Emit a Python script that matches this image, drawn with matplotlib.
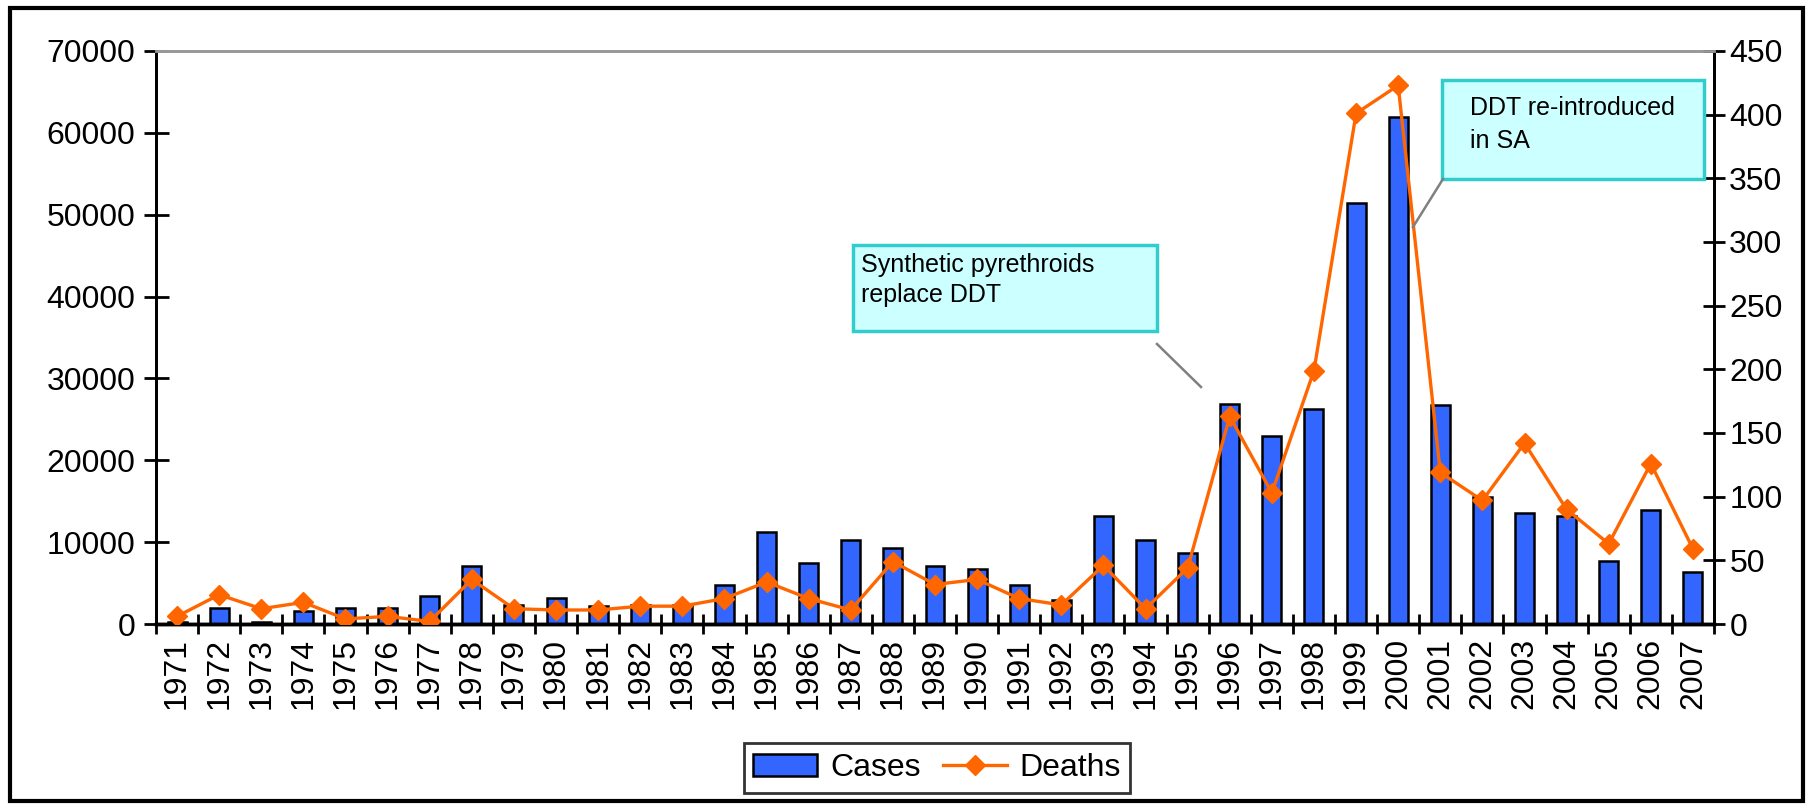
import matplotlib
matplotlib.use("Agg")
import matplotlib.pyplot as plt
from matplotlib.patches import Rectangle, Patch
from matplotlib.lines import Line2D

plt.rcParams['font.family'] = ['Liberation Sans', 'DejaVu Sans']

years = [str(y) for y in range(1971, 2008)]
cases = [300, 1900, 300, 1550, 1900, 1900, 3450, 7100, 2300, 3200,
         2250, 2300, 2300, 4800, 11300, 7400, 10300, 9300, 7100, 6750,
         4800, 2900, 13200, 10300, 8700, 26900, 23000, 26300, 51400, 61900,
         26700, 15500, 13600, 13200, 7700, 13950, 6400]
deaths = [6, 23, 12, 17, 4, 6, 2, 35, 12, 11,
          11, 14, 14, 20, 33, 20, 11, 49, 31, 35,
          20, 15, 46, 12, 44, 163, 103, 199, 401, 423,
          119, 97, 142, 90, 63, 126, 59]
cases_ticks = list(range(0, 70001, 10000))
deaths_ticks = list(range(0, 451, 50))
notes = [["Synthetic pyrethroids", "replace DDT"], ["DDT re-introduced", "in SA"]]

W, H = 1812, 805
fig = plt.figure(figsize=(W / 100, H / 100), dpi=100)

def fx(x):
    return x / W

def fy(y):
    return 1 - y / H

L, R, T, B = 156, 1714, 51, 624
ax = fig.add_axes([fx(L), fy(B), fx(R) - fx(L), fy(T) - fy(B)])
ax2 = ax.twinx()

BLUE = '#3366FF'
ORANGE = '#FF6600'
FS = 23

xs = list(range(len(years)))
ax.bar(xs, cases, width=0.45, color=BLUE, edgecolor='black', linewidth=1.8, zorder=2)
ax2.plot(xs, deaths, color=ORANGE, lw=2.4, marker='D', markersize=10,
         markeredgecolor=ORANGE, zorder=3)

ax.set_xlim(-0.5, len(years) - 0.5)
ax.set_ylim(0, 70000)
ax2.set_ylim(0, 450)
ax.set_yticks(cases_ticks)
ax.set_yticklabels([str(v) for v in cases_ticks], fontsize=FS)
ax2.set_yticks(deaths_ticks)
ax2.set_yticklabels([str(v) for v in deaths_ticks], fontsize=FS)

ax.set_xticks(xs)
ax.set_xticklabels(years, rotation=90, fontsize=FS)
ax.tick_params(axis='x', which='major', length=0, pad=10)
ax.set_xticks([i - 0.5 for i in range(len(years) + 1)], minor=True)
ax.tick_params(axis='x', which='minor', direction='inout', length=14, width=2)
ax.tick_params(axis='y', direction='inout', length=18, width=2, pad=6)
ax2.tick_params(axis='y', direction='inout', length=16, width=2, pad=3)

for a in (ax, ax2):
    a.spines['top'].set_color('#999999')
    a.spines['top'].set_linewidth(2)
    a.spines['left'].set_linewidth(2)
    a.spines['right'].set_linewidth(2)
    a.spines['bottom'].set_linewidth(2.5)
ax.set_zorder(1)
ax2.set_zorder(2)
ax2.patch.set_visible(False)

boxes = [(853, 245, 1157, 331), (1442, 80, 1704, 179)]
text_pos = [(861, [272, 302]), (1470, [115, 148])]
links = [((1157, 344), (1201, 387)), ((1443, 179), (1413, 227))]
for (x0, y0, x1, y1), lines, (tx, bases) in zip(boxes, notes, text_pos):
    fig.patches.append(Rectangle((fx(x0), fy(y1)), fx(x1) - fx(x0), fy(y0) - fy(y1),
                                 transform=fig.transFigure, facecolor='#CCFFFF',
                                 edgecolor='#33CCCC', linewidth=2.5, zorder=5))
    for line, by in zip(lines, bases):
        fig.text(fx(tx), fy(by), line, fontsize=18, va='baseline', ha='left', zorder=6)
for (p0, p1) in links:
    fig.add_artist(Line2D([fx(p0[0]), fx(p1[0])], [fy(p0[1]), fy(p1[1])],
                          transform=fig.transFigure, color='#808080', lw=1.8, zorder=6))

handles = [Patch(facecolor=BLUE, edgecolor='black', linewidth=1.8),
           Line2D([], [], color=ORANGE, lw=2.4, marker='D', markersize=10)]
leg = fig.legend(handles, ['Cases', 'Deaths'], loc='center',
                 bbox_to_anchor=(fx(937), fy(768)), ncol=2, fontsize=23,
                 frameon=True, fancybox=False, edgecolor='black',
                 handlelength=2.0, handletextpad=0.4, columnspacing=0.7,
                 borderpad=0.3)
leg.get_frame().set_linewidth(2)

fig.patches.append(Rectangle((fx(10), fy(801)), fx(1803) - fx(10), fy(8) - fy(801),
                             transform=fig.transFigure, fill=False,
                             edgecolor='black', linewidth=3, zorder=10))

fig.savefig('out.png', dpi=100)
